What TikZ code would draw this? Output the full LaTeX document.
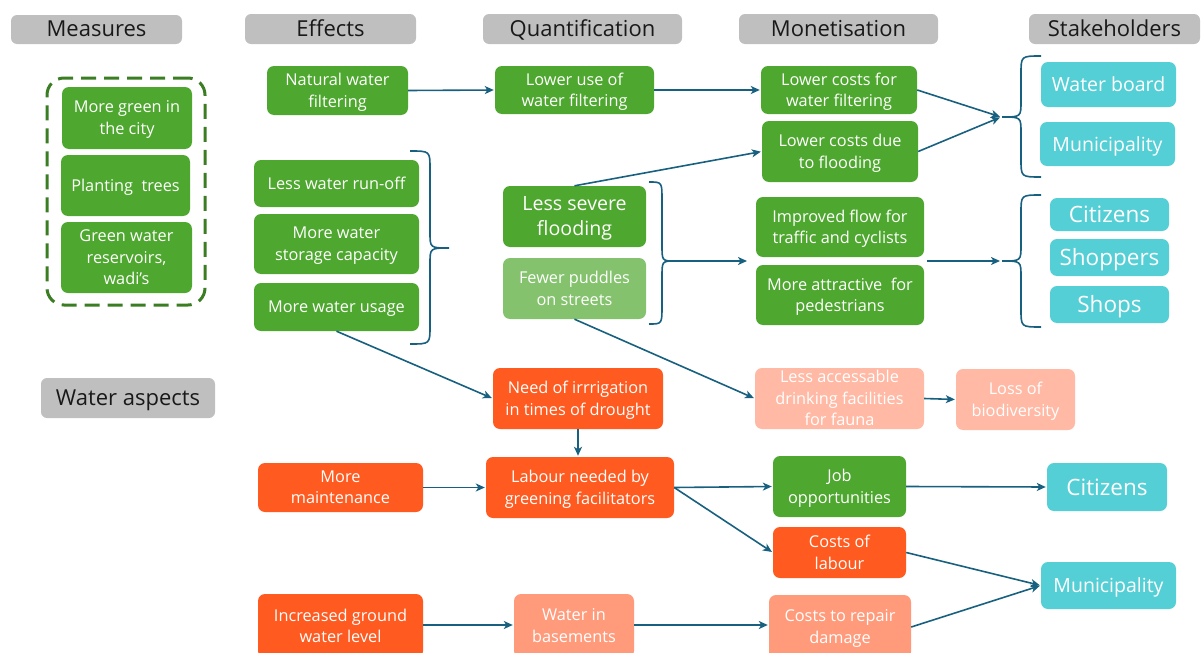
\documentclass[tikz,border=0pt]{standalone}
\usepackage{fontspec}
\setmainfont{Open Sans}
\usetikzlibrary{arrows.meta}

\definecolor{grn}{HTML}{4EA72E}
\definecolor{ltgrn}{HTML}{84C26D}
\definecolor{org}{HTML}{FF5A1F}
\definecolor{salmon}{HTML}{FF9B7B}
\definecolor{ltsalmon}{HTML}{FFB9A4}
\definecolor{cyn}{HTML}{55CFD6}
\definecolor{hdrgray}{HTML}{BFBFBF}
\definecolor{linkblue}{HTML}{18607F}
\definecolor{dashgrn}{HTML}{3B7D23}

% curly brace: #1 x of the two ends, #2 x of the spine, #3 x of the tip,
% #4 y of the top end, #5 y of the tip, #6 y of the bottom end
\newcommand\curlybrace[6]{%
  \draw[bracestyle] (#1,#4) .. controls (#2,#4) .. (#2,{#4+18})
    -- (#2,{#5-16}) .. controls (#2,#5) .. (#3,#5)
    .. controls (#2,#5) .. (#2,{#5+16})
    -- (#2,{#6-18}) .. controls (#2,#6) .. (#1,#6);}

\begin{document}
\begin{tikzpicture}[x=1pt,y=-1pt,
  box/.style={rounded corners=7pt, inner sep=0pt, align=center, text=white,
    text depth=0.5pt, font=\fontsize{16.3}{21.5}\selectfont},
  gbox/.style={box, fill=grn},
  lgbox/.style={box, fill=ltgrn},
  obox/.style={box, fill=org},
  sbox/.style={box, fill=salmon},
  lsbox/.style={box, fill=ltsalmon},
  cbox/.style={box, fill=cyn, font=\fontsize{19.5}{23}\selectfont},
  bigc/.style={font=\fontsize{22.5}{25}\selectfont},
  hdr/.style={rounded corners=6pt, inner sep=0pt, fill=hdrgray, text=black!90,
    text depth=1pt, font=\fontsize{22}{25}\selectfont},
  groupbox/.style={draw=dashgrn, line width=3pt, dash pattern=on 15pt off 8pt,
    rounded corners=17pt, inner sep=0pt},
  link/.style={draw=linkblue, line width=1.6pt, shorten >=1pt,
    -{Stealth[length=9pt,width=8pt,inset=2.5pt]}},
  bracestyle/.style={draw=linkblue, line width=1.6pt},
]
\useasboundingbox (0,0) rectangle (1203,653);
\clip (0,0) rectangle (1203,653);

% column headers
\node[hdr, minimum width=171, minimum height=29] (hMeas)  at (96.5,29.5) {Measures};
\node[hdr, minimum width=171, minimum height=30] (hEff)   at (330.5,29)  {Effects};
\node[hdr, minimum width=199, minimum height=30] (hQuant) at (582.5,29)  {Quantification};
\node[hdr, minimum width=199, minimum height=30] (hMon)   at (838.5,29)  {Monetisation};
\node[hdr, minimum width=171, minimum height=30] (hStake) at (1114.5,29) {Stakeholders};
\node[hdr, minimum width=174, minimum height=40] (hWater) at (128,398)   {Water aspects};

% measures
\node[groupbox, minimum width=158, minimum height=227] (grp) at (126,191.5) {};
\node[gbox, minimum width=130, minimum height=62] (m1) at (127,118)     {More green in\\the city};
\node[gbox, minimum width=129, minimum height=61] (m2) at (125.5,185.5) {Planting\ \ trees};
\node[gbox, minimum width=131, minimum height=71] (m3) at (126.5,257.5) {Green water\\reservoirs,\\wadi’s};

% effects
\node[gbox, minimum width=141, minimum height=49] (e1) at (337.5,90.5) {Natural water\\filtering};
\node[gbox, minimum width=165, minimum height=47] (e2) at (336.5,183.5) {Less water run-off};
\node[gbox, minimum width=165, minimum height=60] (e3) at (336.5,244) {More water\\storage capacity};
\node[gbox, minimum width=165, minimum height=48] (e4) at (336.5,307) {More water usage};

% quantification
\node[gbox, minimum width=159, minimum height=48] (q1) at (574.5,90) {Lower use of\\water filtering};
\node[gbox, minimum width=143, minimum height=61, font=\fontsize{19.6}{25}\selectfont] (q2) at (574.5,216.5) {Less severe\\flooding};
\node[lgbox, minimum width=143, minimum height=61] (q3) at (574.5,288.5) {Fewer puddles\\on streets};

% monetisation
\node[gbox, minimum width=156, minimum height=48] (mo1) at (839,90) {Lower costs for\\water filtering};
\node[gbox, minimum width=156, minimum height=61] (mo2) at (840,151.5) {Lower costs due\\to flooding};
\node[gbox, minimum width=168, minimum height=60] (mo3) at (840,227) {Improved flow for\\traffic and cyclists};
\node[gbox, minimum width=168, minimum height=60] (mo4) at (840,295) {More attractive\ \ for\\pedestrians};
\node[lsbox, minimum width=169, minimum height=61] (mo5) at (839.5,398.5) {Less accessable\\drinking facilities\\for fauna};
\node[lsbox, minimum width=119, minimum height=61] (bio) at (1015.5,399.5) {Loss of\\biodiversity};

% stakeholders
\node[cbox, minimum width=135, minimum height=45] (s1) at (1108.5,84.5) {Water board};
\node[cbox, minimum width=135, minimum height=44] (s2) at (1107.5,144) {Municipality};
\node[cbox, bigc, minimum width=119, minimum height=33] (s3) at (1109.5,214.5) {Citizens};
\node[cbox, bigc, minimum width=119, minimum height=37] (s4) at (1109.5,257.5) {Shoppers};
\node[cbox, bigc, minimum width=119, minimum height=37] (s5) at (1109.5,304.5) {Shops};
\node[cbox, bigc, minimum width=120, minimum height=48] (s6) at (1107,487) {Citizens};
\node[cbox, minimum width=135, minimum height=47] (s7) at (1108.5,585.5) {Municipality};

% water aspects
\node[obox, minimum width=170, minimum height=61] (w1) at (578,398.5) {Need of irrrigation\\in times of drought};
\node[obox, minimum width=188, minimum height=61] (w2) at (580,487.5) {Labour needed by\\greening facilitators};
\node[gbox, minimum width=133, minimum height=61] (w3) at (839.5,486.5) {Job\\opportunities};
\node[obox, minimum width=133, minimum height=51] (w4) at (839.5,552.5) {Costs of\\labour};
\node[obox, minimum width=165, minimum height=49] (w5) at (340.5,487.5) {More\\maintenance};
\node[obox, minimum width=165, minimum height=64] (w6) at (340.5,626) {Increased ground\\water level};
\node[sbox, minimum width=120, minimum height=64] (w7) at (574,626) {Water in\\basements};
\node[sbox, minimum width=142, minimum height=64] (w8) at (840,627) {Costs to repair\\damage};

% braces
\curlybrace{410}{430}{449}{151}{248}{344}
\curlybrace{649}{662}{675}{182}{261}{324}
\curlybrace{1041}{1021}{1002}{56}{117}{177}
\curlybrace{1041}{1021}{1002}{195}{261}{327}

% junction points at the brace tips
\coordinate (bq) at (675,261);
\coordinate (bqend) at (748,261);
\coordinate (monj) at (927,261);
\coordinate (sk1) at (1001,117);
\coordinate (sk2) at (1001,261);

% connectors
\draw[link] (e1.east) -- (q1.west);
\draw[link] (q1.east) -- (mo1.west);
\draw[link] (q2.north) -- (mo2.west);
\draw[link] (mo1.east) -- (sk1);
\draw[link] (mo2.east) -- (sk1);
\draw[link] (bq) -- (bqend);
\draw[link] (monj) -- (sk2);
\draw[link] (e4.south) -- (w1.west);
\draw[link] (q3.south) -- (mo5.west);
\draw[link] (mo5.east) -- (bio.west);
\draw[link] (w1.south) -- (w1.south |- w2.north);
\draw[link] (w5.east) -- (w2.west);
\draw[link] (w2.east) -- (w3.west);
\draw[link] (w2.east) -- (w4.west);
\draw[link] (w3.east) -- (s6.west);
\draw[link] (w4.east) -- (s7.west);
\draw[link] (w8.east) -- (s7.west);
\draw[link] (w6.east |- 0,625) -- (w7.west |- 0,625);
\draw[link] (w7.east |- 0,625) -- (w8.west |- 0,625);
\end{tikzpicture}
\end{document}
